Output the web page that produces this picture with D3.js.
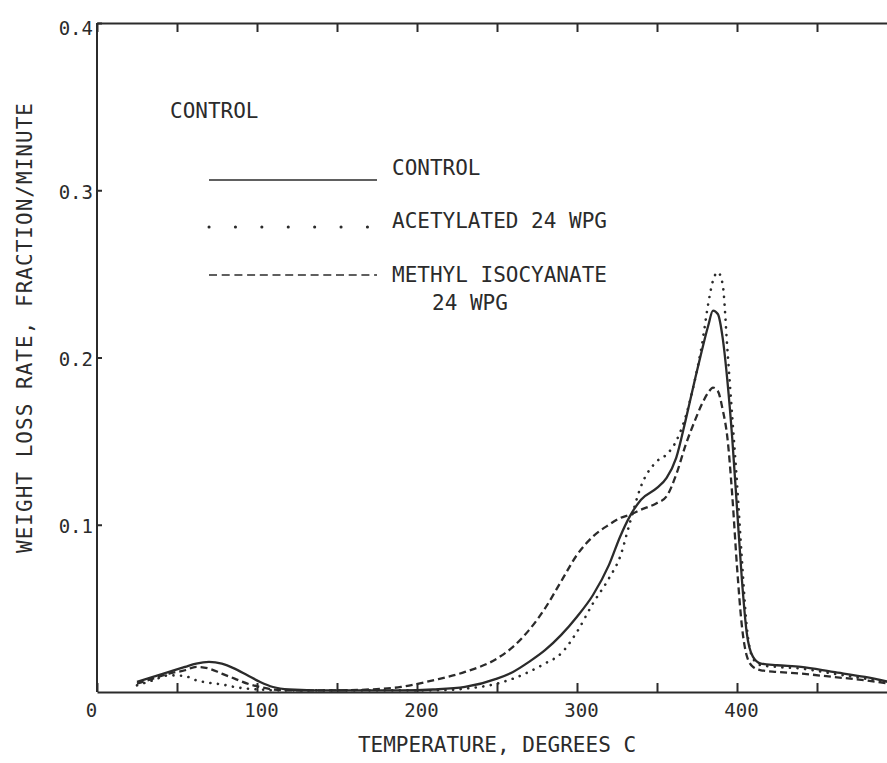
<!DOCTYPE html>
<html>
<head>
<meta charset="utf-8">
<script src="https://cdn.jsdelivr.net/npm/d3@7"></script>
<style>
  body { margin: 0; background: #fff; }
  text { font-family: "DejaVu Sans Mono", monospace; fill: #2b2b2b; }
</style>
</head>
<body>
<div class="visHolder"></div>
<script>
// temperature, degrees C
let temps = [25, 35, 45, 55, 62, 70, 78, 86, 94, 102, 110, 120, 135, 150, 170, 190,
             210, 230, 250, 260, 270, 280, 290, 300, 310, 320, 327, 333, 340, 350,
             356, 362, 368, 374, 378, 382, 385, 388, 391, 394, 397, 400, 403, 406,
             410, 415, 425, 440, 460, 480, 495];

let control = [.006, .009, .012, .015, .017, .018, .017, .014, .010, .006, .003, .0015, .001, .001, .001, .001,
               .0015, .003, .008, .012, .018, .025, .034, .045, .058, .076, .093, .105, .115, .122,
               .128, .140, .163, .188, .204, .219, .228, .226, .212, .186, .152, .110, .068, .036,
               .021, .017, .016, .015, .012, .009, .006];

let acetylated = [.004, .007, .010, .0095, .007, .0055, .0045, .003, .002, .0015, .001, .001, .001, .001, .001, .001,
                  .001, .002, .005, .008, .012, .017, .023, .036, .053, .068, .081, .101, .123, .138,
                  .142, .150, .165, .188, .207, .232, .246, .251, .244, .205, .165, .125, .080, .040,
                  .020, .016, .015, .014, .011, .008, .006];

let methylIso = [.005, .008, .011, .013, .015, .014, .011, .008, .005, .003, .0015, .001, .001, .001, .0015, .003,
                 .007, .012, .020, .027, .037, .050, .066, .082, .093, .100, .104, .106, .109, .113,
                 .117, .130, .148, .163, .172, .179, .182, .180, .169, .152, .118, .075, .040, .022,
                 .015, .013, .012, .011, .009, .007, .005];

let seriesNames = ['CONTROL', 'ACETYLATED 24 WPG', 'METHYL ISOCYANATE'];
let xTicks = [0, 50, 100, 150, 200, 250, 300, 350, 400, 450, 500];
let xLabels = [0, 100, 200, 300, 400];
let yTicks = [0.1, 0.2, 0.3, 0.4];

let width = 887;
let height = 763;

let svg = d3.select('.visHolder').append('svg')
  .attr('width', width)
  .attr('height', height);

let xScale = d3.scaleLinear().domain([0, 500]).range([97, 897]);
let yScale = d3.scaleLinear().domain([0, 0.4]).range([692, 23]);

let ink = '#2b2b2b';

// axes
let bottomAxis = d3.axisBottom(xScale)
  .tickValues(xTicks)
  .tickSize(-9)
  .tickSizeOuter(0)
  .tickPadding(12)
  .tickFormat(d => xLabels.includes(d) ? d : '');

let gx = svg.append('g')
  .attr('transform', 'translate(0,' + yScale(0) + ')')
  .call(bottomAxis);
gx.selectAll('text')
  .style('font-size', '19px')
  .attr('dx', d => d === 0 ? -6 : 4);

let topAxis = d3.axisTop(xScale)
  .tickValues(xTicks)
  .tickSize(-9)
  .tickSizeOuter(0)
  .tickFormat('');

svg.append('g')
  .attr('transform', 'translate(0,' + yScale(0.4) + ')')
  .call(topAxis);

let leftAxis = d3.axisLeft(yScale)
  .tickValues(yTicks)
  .tickSize(-5)
  .tickSizeOuter(0)
  .tickPadding(4)
  .tickFormat(d3.format('.1f'));

let gy = svg.append('g')
  .attr('transform', 'translate(' + xScale(0) + ',0)')
  .call(leftAxis);
gy.selectAll('text')
  .style('font-size', '19px')
  .attr('dy', d => d === 0.4 ? '0.62em' : '0.42em');

// the axis line has to run the full height
gy.select('.domain').attr('d', 'M0,' + yScale(0) + 'V' + yScale(0.4));

svg.selectAll('.domain, .tick line')
  .attr('stroke', ink)
  .attr('stroke-width', 2);

// curves
let line = d3.line()
  .x((d, i) => xScale(temps[i]))
  .y(d => yScale(d))
  .curve(d3.curveMonotoneX);

svg.append('path')
  .datum(control)
  .attr('d', line)
  .attr('fill', 'none')
  .attr('stroke', ink)
  .attr('stroke-width', 2.3);

svg.append('path')
  .datum(acetylated)
  .attr('d', line)
  .attr('fill', 'none')
  .attr('stroke', ink)
  .attr('stroke-width', 2.6)
  .attr('stroke-linecap', 'round')
  .attr('stroke-dasharray', '0.1,7.5');

svg.append('path')
  .datum(methylIso)
  .attr('d', line)
  .attr('fill', 'none')
  .attr('stroke', ink)
  .attr('stroke-width', 2.3)
  .attr('stroke-dasharray', '7,4');

// legend
svg.append('text')
  .attr('x', 170)
  .attr('y', 118)
  .style('font-size', '21px')
  .text('CONTROL');

let legendLines = [
  { y: 180, dash: null },
  { y: 227, dash: '0.1,26.3' },
  { y: 275, dash: '8,4.7' }
];
let legendText = [175, 228, 282];

legendLines.forEach((l, i) => {
  let ln = svg.append('line')
    .attr('x1', 209).attr('x2', 377)
    .attr('y1', l.y).attr('y2', l.y)
    .attr('stroke', ink)
    .attr('stroke-width', i === 1 ? 3 : 1.6)
    .attr('stroke-linecap', i === 1 ? 'round' : 'butt');
  if (l.dash) ln.attr('stroke-dasharray', l.dash);

  svg.append('text')
    .attr('x', 392)
    .attr('y', legendText[i])
    .style('font-size', '21px')
    .text(seriesNames[i]);
});

svg.append('text')
  .attr('x', 432)
  .attr('y', 310)
  .style('font-size', '21px')
  .text('24 WPG');

// axis titles
svg.append('text')
  .attr('x', 497)
  .attr('y', 752)
  .attr('text-anchor', 'middle')
  .style('font-size', '21px')
  .text('TEMPERATURE, DEGREES C');

svg.append('text')
  .attr('transform', 'translate(32,328) rotate(-90)')
  .attr('text-anchor', 'middle')
  .attr('textLength', 450)
  .attr('lengthAdjust', 'spacing')
  .style('font-size', '21px')
  .text('WEIGHT LOSS RATE, FRACTION/MINUTE');
</script>
</body>
</html>
